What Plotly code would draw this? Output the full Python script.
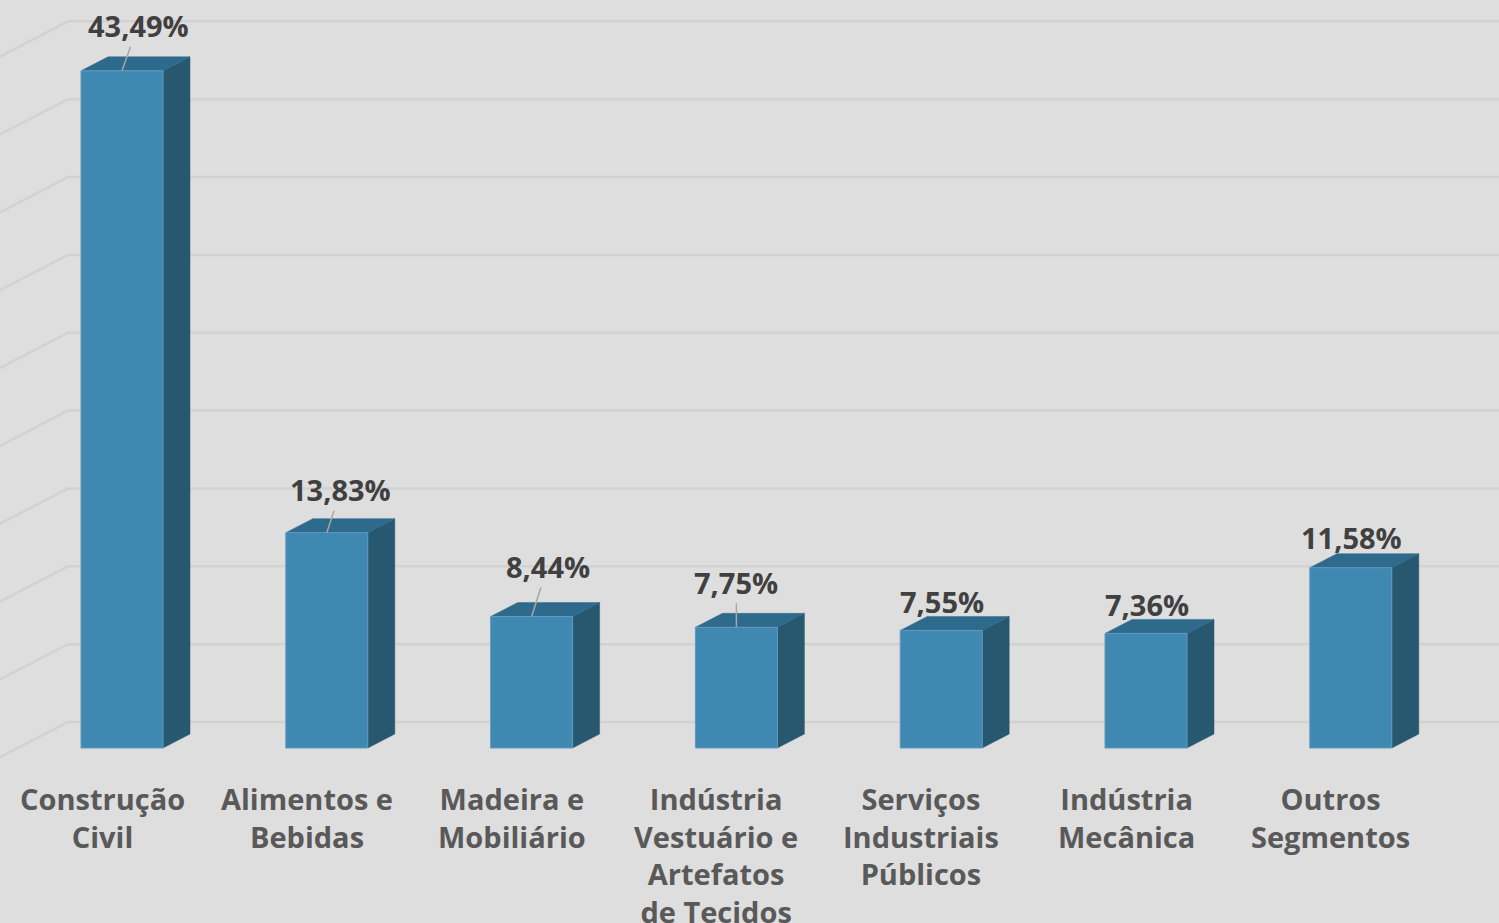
import plotly.graph_objects as go

# ---- data ----
categories = [
    "Construção<br>Civil",
    "Alimentos e<br>Bebidas",
    "Madeira e<br>Mobiliário",
    "Indústria<br>Vestuário e<br>Artefatos<br>de Tecidos",
    "Serviços<br>Industriais<br>Públicos",
    "Indústria<br>Mecânica",
    "Outros<br>Segmentos",
]
values = [43.49, 13.83, 8.44, 7.75, 7.55, 7.36, 11.58]
value_labels = ["43,49%", "13,83%", "8,44%", "7,75%", "7,55%", "7,36%", "11,58%"]
grid_values = [0, 5, 10, 15, 20, 25, 30, 35, 40, 45]

# ---- geometry / style (not data) ----
W, H = 1499, 923
PX_CAT = 204.8      # px per category
PX_UNIT = 15.57     # px per value unit
X0_PX = 122         # px of first category centre
BASE_PX = 748       # px of baseline (front)
BAR_W = 82 / PX_CAT
DX = 27 / PX_CAT    # depth offset x (data units)
DY = 14 / PX_UNIT   # depth offset y (data units)
WALL_K = (26 / PX_UNIT) / DY   # wall depth in multiples of bar depth
WALL_LEFT = (68 - X0_PX) / PX_CAT

xr = [-X0_PX / PX_CAT, (W - X0_PX) / PX_CAT]
yr = [-(H - BASE_PX) / PX_UNIT, BASE_PX / PX_UNIT]

BG = "#dedede"
GRID = "#d2d2d2"
FRONT = "#3f88b2"
FRONT_EDGE = "#5f9cc0"
SIDE = "#27586f"
TOP = "#2e6a8c"

fig = go.Figure()

# gridlines on back wall and left side wall
gx, gy = [], []
wdy = WALL_K * DY
for g in grid_values:
    yb = g + wdy
    gx += [xr[1] + 1, WALL_LEFT, WALL_LEFT - 3 * DX, None]
    gy += [yb, yb, yb - 3 * DY, None]
fig.add_trace(go.Scatter(x=gx, y=gy, mode="lines",
                         line=dict(color=GRID, width=2.5),
                         hoverinfo="skip", showlegend=False))

# side, top and front faces
sx, sy, tx, ty, fx, fy = [], [], [], [], [], []
for i, v in enumerate(values):
    r = i + BAR_W / 2
    l = i - BAR_W / 2
    sx += [r, r + DX, r + DX, r, r, None]
    sy += [0, DY, v + DY, v, 0, None]
    tx += [l, r, r + DX, l + DX, l, None]
    ty += [v, v, v + DY, v + DY, v, None]
    fx += [l, r, r, l, l, None]
    fy += [0, 0, v, v, 0, None]
fig.add_trace(go.Scatter(x=sx, y=sy, mode="lines", fill="toself",
                         fillcolor=SIDE, line=dict(color=SIDE, width=0.5),
                         hoverinfo="skip", showlegend=False))
fig.add_trace(go.Scatter(x=tx, y=ty, mode="lines", fill="toself",
                         fillcolor=TOP, line=dict(color=TOP, width=0.5),
                         hoverinfo="skip", showlegend=False))
fig.add_trace(go.Scatter(x=fx, y=fy, mode="lines", fill="toself",
                         fillcolor=FRONT, line=dict(color=FRONT_EDGE, width=1),
                         hoverinfo="skip", showlegend=False))

# value labels (with leader lines)
label_offsets = [(16, -45, True), (14, -43, True), (16, -50, True), (0, -45, True),
                 (1, -29, False), (1, -29, False), (1, -30, False)]
for i, (v, t) in enumerate(zip(values, value_labels)):
    ax, ay, lead = label_offsets[i]
    fig.add_annotation(x=i, y=v, text=t, showarrow=True, arrowhead=0,
                       arrowwidth=1.5,
                       arrowcolor="#a6a6a6" if lead else "rgba(0,0,0,0)",
                       ax=ax, ay=ay, standoff=0,
                       font=dict(family="Open Sans", size=29, color="#404040",
                                 weight="bold"))

# category labels
for i, c in enumerate(categories):
    fig.add_annotation(x=i - 20 / PX_CAT, y=-(777 - BASE_PX) / PX_UNIT, text=c,
                       showarrow=False, yanchor="top", xanchor="center",
                       font=dict(family="Open Sans", size=29, color="#595959",
                                 weight="bold"))

fig.update_layout(
    width=W, height=H,
    margin=dict(l=0, r=0, t=0, b=0),
    paper_bgcolor=BG, plot_bgcolor=BG,
    xaxis=dict(range=xr, visible=False, fixedrange=True),
    yaxis=dict(range=yr, visible=False, fixedrange=True),
    font=dict(family="Open Sans"),
)

fig.write_html("out.html", config={"displayModeBar": False},
               post_script="document.body.style.margin='0';document.body.style.overflow='hidden';")
